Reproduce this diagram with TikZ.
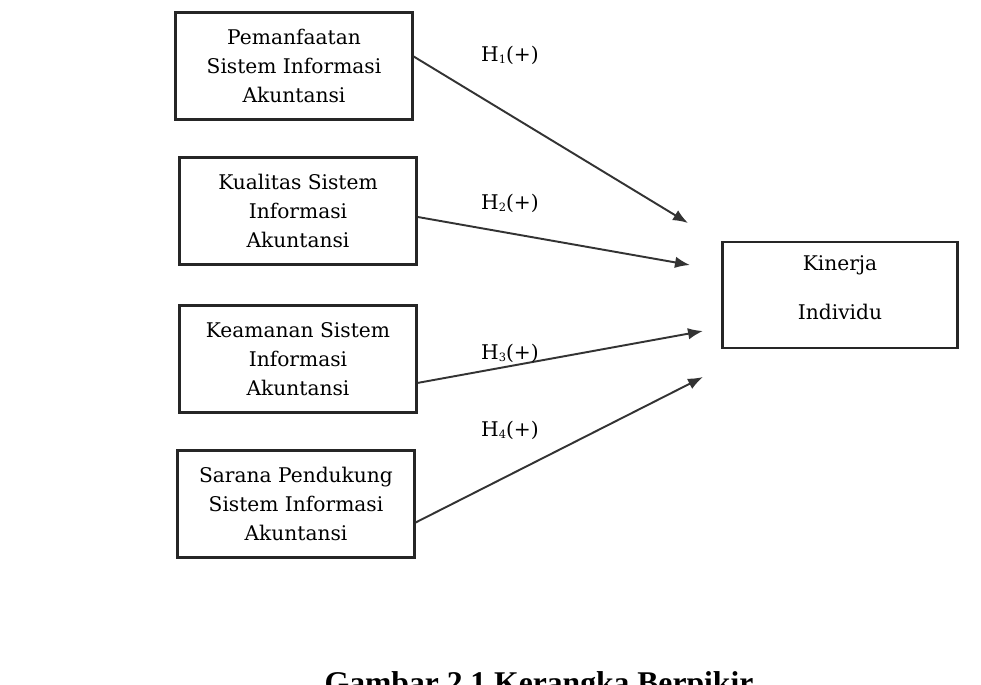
\documentclass[tikz,border=0pt]{standalone}
\usepackage{fontspec}
\setmainfont{DejaVu Serif}
\newfontfamily\capfont{Liberation Serif}
\usetikzlibrary{arrows.meta}
\newcommand{\hsub}[1]{\raisebox{-1.2pt}{\fontsize{6.5}{7}\selectfont #1}}
\begin{document}
\begin{tikzpicture}[x=0.02cm,y=-0.02cm,
 varbox/.style={draw=black!85,line width=1.4pt,minimum width=4.74cm,minimum height=2.14cm,align=center,font=\fontsize{11.5}{16.4}\selectfont},
 hyp/.style={-{Latex[length=3mm,width=2.3mm]},line width=1.1pt,draw=black!80},
 hlabel/.style={font=\fontsize{11.5}{14}\selectfont}]
 \useasboundingbox (0,0) rectangle (981,684);
 % variabel independen
 \node[varbox] (pemanfaatan) at (294,66) {Pemanfaatan\\Sistem Informasi\\Akuntansi};
 \node[varbox] (kualitas) at (298,211) {Kualitas Sistem\\Informasi\\Akuntansi};
 \node[varbox] (keamanan) at (298,359) {Keamanan Sistem\\Informasi\\Akuntansi};
 \node[varbox] (sarana) at (296,504) {Sarana Pendukung\\Sistem Informasi\\Akuntansi};
 % variabel dependen
 \node[varbox,minimum width=4.7cm,minimum height=2.12cm] (kinerja) at (840,295) {Kinerja\\[11.4pt]Individu\\[-8.4pt]\mbox{}};
 \coordinate (t1) at (688,223);
 \coordinate (t2) at (690,265);
 \coordinate (t3) at (703,331);
 \coordinate (t4) at (703,377);
 \draw[hyp] ([yshift=5.4pt]pemanfaatan.east) -- (t1);
 \draw[hyp] ([yshift=-3.4pt]kualitas.east) -- (t2);
 \draw[hyp] ([yshift=-13.6pt]keamanan.east) -- (t3);
 \draw[hyp] ([yshift=-10.5pt]sarana.east) -- (t4);
 \node[hlabel] (h1) at (510,55) {H\hsub{1}(+)};
 \node[hlabel] (h2) at (510,203) {H\hsub{2}(+)};
 \node[hlabel] (h3) at (510,353) {H\hsub{3}(+)};
 \node[hlabel] (h4) at (510,430) {H\hsub{4}(+)};
 \node[font=\capfont\bfseries\fontsize{18}{20}\selectfont,anchor=base] (caption) at (539,693) {Gambar 2.1 Kerangka Berpikir};
\end{tikzpicture}
\end{document}
